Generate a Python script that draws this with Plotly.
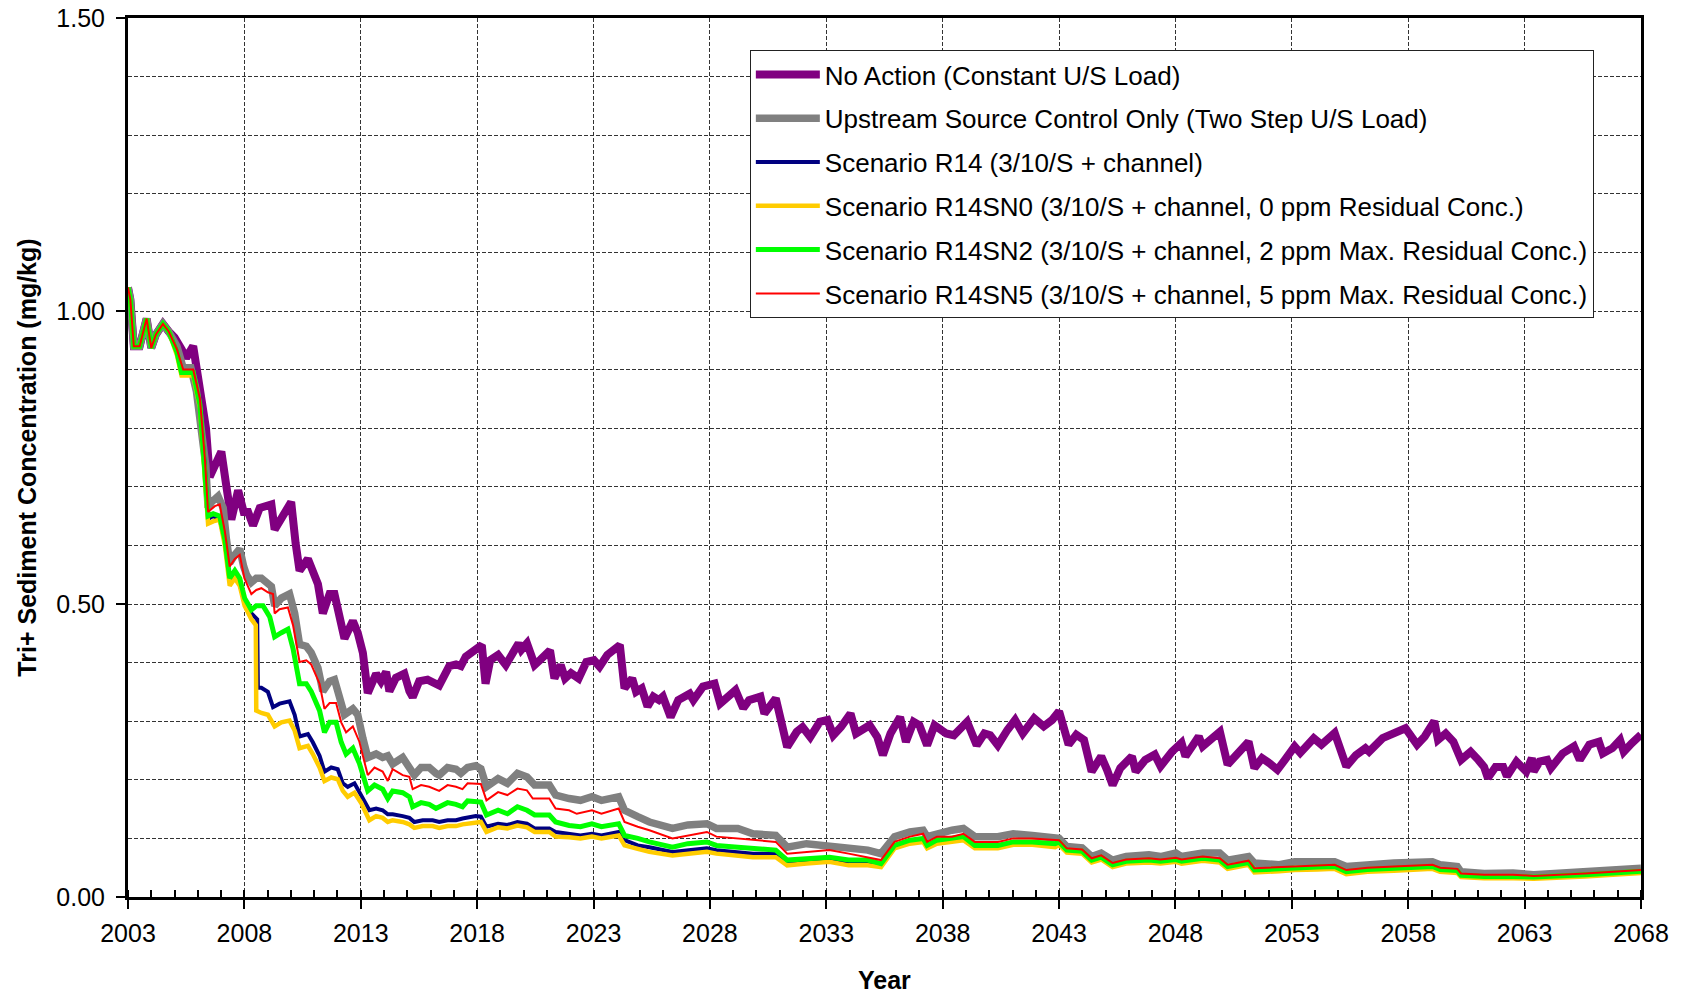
import plotly.graph_objects as go

# ---------------- data ----------------
# shared start of all scenarios (2003 - 2005)
early_years = [2003.0, 2003.1, 2003.25, 2003.5, 2003.8, 2004.0, 2004.2, 2004.5, 2004.75]
early_vals = [1.04, 1.02, 0.94, 0.94, 0.987, 0.937, 0.96, 0.978, 0.965]

# No Action (Constant U/S Load)
na_years = early_years + [
    2005.0, 2005.3, 2005.5, 2005.8, 2006.16, 2006.35, 2006.51, 2006.8, 2007.01, 2007.23,
    2007.44, 2007.73, 2007.97, 2008.16, 2008.37, 2008.66, 2008.87, 2009.16, 2009.3, 2009.66,
    2010.01, 2010.2, 2010.37, 2010.73, 2010.94, 2011.16, 2011.37, 2011.66, 2011.87, 2012.09,
    2012.3, 2012.66, 2012.87, 2013.09, 2013.3, 2013.66, 2013.87, 2014.09, 2014.23, 2014.51,
    2014.87, 2015.09, 2015.23, 2015.51, 2015.87, 2016.37, 2016.59, 2016.8, 2017.09, 2017.3,
    2017.51, 2017.87, 2018.2, 2018.36, 2018.56, 2018.9, 2019.23, 2019.78, 2019.9, 2020.14,
    2020.47, 2020.72, 2021.13, 2021.32, 2021.59, 2021.78, 2022.03, 2022.36, 2022.69, 2023.02,
    2023.26, 2023.59, 2024.13, 2024.33, 2024.66, 2024.83, 2025.07, 2025.32, 2025.57, 2025.81,
    2025.98, 2026.31, 2026.64, 2027.13, 2027.29, 2027.70, 2028.2, 2028.44, 2028.86, 2029.1,
    2029.43, 2029.68, 2030.17, 2030.34, 2030.83, 2031.16, 2031.32, 2031.73, 2031.98, 2032.31,
    2032.72, 2033.05, 2033.3, 2033.63, 2034.04, 2034.28, 2034.86, 2035.19, 2035.43, 2035.76,
    2036.17, 2036.42, 2036.75, 2037.0, 2037.33, 2037.65, 2038.15, 2038.48, 2039.05, 2039.46,
    2039.79, 2040.04, 2040.37, 2040.78, 2041.11, 2041.44, 2041.93, 2042.34, 2042.7, 2043.0,
    2043.25, 2043.41, 2043.74, 2044.07, 2044.4, 2044.81, 2045.06, 2045.3, 2045.63, 2046.13,
    2046.29, 2046.7, 2047.11, 2047.36, 2047.85, 2048.26, 2048.43, 2049.0, 2049.17, 2049.91,
    2050.24, 2050.65, 2051.14, 2051.39, 2051.72, 2052.05, 2052.38, 2052.7, 2053.12, 2053.36,
    2053.94, 2054.27, 2054.84, 2055.34, 2055.75, 2056.16, 2056.32, 2056.9, 2057.39, 2057.88,
    2058.38, 2058.71, 2059.12, 2059.28, 2059.61, 2059.94, 2060.27, 2060.68, 2061.01, 2061.26,
    2061.42, 2061.75, 2062.08, 2062.24, 2062.65, 2063.07, 2063.31, 2063.39, 2063.64, 2063.97,
    2064.13, 2064.63, 2065.12, 2065.37, 2065.78, 2066.19, 2066.36, 2066.77, 2067.1, 2067.26,
    2067.59, 2068.0]
na_vals = early_vals + [
    0.955, 0.935, 0.92, 0.94, 0.86, 0.80, 0.717, 0.744, 0.76, 0.70,
    0.644, 0.694, 0.657, 0.657, 0.634, 0.664, 0.667, 0.67, 0.627, 0.654,
    0.674, 0.604, 0.557, 0.577, 0.557, 0.534, 0.484, 0.517, 0.517, 0.484,
    0.441, 0.471, 0.451, 0.417, 0.348, 0.381, 0.368, 0.384, 0.351, 0.374,
    0.381, 0.351, 0.341, 0.368, 0.371, 0.361, 0.381, 0.394, 0.397, 0.394,
    0.410, 0.420, 0.43, 0.364, 0.404, 0.413, 0.396, 0.433, 0.422, 0.433,
    0.396, 0.405, 0.421, 0.373, 0.396, 0.373, 0.382, 0.373, 0.401, 0.404,
    0.393, 0.413, 0.43, 0.356, 0.373, 0.350, 0.356, 0.325, 0.342, 0.336,
    0.342, 0.307, 0.336, 0.347, 0.336, 0.359, 0.364, 0.330, 0.345, 0.353,
    0.322, 0.336, 0.342, 0.313, 0.339, 0.290, 0.256, 0.282, 0.290, 0.273,
    0.299, 0.302, 0.276, 0.290, 0.313, 0.279, 0.293, 0.273, 0.242, 0.279,
    0.307, 0.265, 0.299, 0.293, 0.259, 0.293, 0.279, 0.276, 0.299, 0.259,
    0.279, 0.276, 0.259, 0.285, 0.302, 0.279, 0.305, 0.291, 0.302, 0.317,
    0.274, 0.260, 0.277, 0.268, 0.214, 0.240, 0.217, 0.191, 0.220, 0.240,
    0.214, 0.234, 0.243, 0.223, 0.248, 0.263, 0.240, 0.274, 0.257, 0.282,
    0.226, 0.243, 0.265, 0.220, 0.237, 0.228, 0.217, 0.234, 0.257, 0.246,
    0.271, 0.260, 0.280, 0.223, 0.242, 0.254, 0.248, 0.271, 0.280, 0.288,
    0.260, 0.274, 0.300, 0.268, 0.279, 0.265, 0.234, 0.248, 0.234, 0.222,
    0.203, 0.222, 0.222, 0.206, 0.231, 0.214, 0.237, 0.214, 0.231, 0.234,
    0.220, 0.245, 0.257, 0.234, 0.260, 0.265, 0.245, 0.254, 0.268, 0.248,
    0.262, 0.277]

# Upstream Source Control Only (Two Step U/S Load)
usc_years = early_years + [
    2005.1, 2005.37, 2005.7, 2005.94, 2006.16, 2006.34, 2006.44, 2006.59, 2006.87, 2007.09,
    2007.23, 2007.37, 2007.59, 2007.8, 2007.97, 2008.09, 2008.3, 2008.51, 2008.73, 2008.94,
    2009.16, 2009.3, 2009.59, 2009.94, 2010.16, 2010.37, 2010.66, 2010.87, 2011.16, 2011.37,
    2011.66, 2011.87, 2012.09, 2012.3, 2012.66, 2012.87, 2013.09, 2013.3, 2013.66, 2013.94,
    2014.16, 2014.37, 2014.8, 2015.09, 2015.3, 2015.59, 2015.94, 2016.23, 2016.37, 2016.73,
    2017.09, 2017.3, 2017.59, 2017.94, 2018.16, 2018.4, 2018.9, 2019.3, 2019.73, 2020.14,
    2020.47, 2021.1, 2021.37, 2021.95, 2022.44, 2022.93, 2023.34, 2024.08, 2024.33, 2024.9,
    2025.4, 2026.39, 2027.05, 2027.87, 2028.28, 2029.2, 2029.85, 2030.83, 2031.32, 2032.15,
    2033.13, 2033.96, 2034.78, 2035.35, 2035.93, 2036.59, 2037.16, 2037.33, 2037.75, 2038.4,
    2038.89, 2039.38, 2040.37, 2041.03, 2041.85, 2042.83, 2043.0, 2043.33, 2043.99, 2044.4,
    2044.81, 2045.3, 2045.88, 2046.86, 2047.36, 2048.02, 2048.26, 2049.17, 2049.9, 2050.24,
    2051.14, 2051.39, 2052.46, 2053.12, 2054.1, 2054.84, 2055.34, 2056.25, 2057.39, 2059.04,
    2059.37, 2060.11, 2060.27, 2061.26, 2062.5, 2063.39, 2065.6, 2068.0]
usc_vals = early_vals + [
    0.94, 0.903, 0.903, 0.863, 0.79, 0.737, 0.664, 0.674, 0.684, 0.664,
    0.61, 0.57, 0.584, 0.594, 0.564, 0.55, 0.537, 0.544, 0.544, 0.537,
    0.53, 0.497, 0.510, 0.517, 0.484, 0.431, 0.428, 0.417, 0.391, 0.351,
    0.368, 0.371, 0.338, 0.311, 0.321, 0.311, 0.271, 0.238, 0.244, 0.238,
    0.241, 0.227, 0.238, 0.221, 0.208, 0.221, 0.221, 0.211, 0.208, 0.221,
    0.218, 0.211, 0.221, 0.224, 0.219, 0.188, 0.202, 0.194, 0.211, 0.205,
    0.191, 0.191, 0.174, 0.168, 0.165, 0.171, 0.165, 0.171, 0.148, 0.137,
    0.128, 0.117, 0.123, 0.125, 0.117, 0.117, 0.108, 0.105, 0.085, 0.091,
    0.088, 0.083, 0.080, 0.074, 0.103, 0.111, 0.114, 0.103, 0.108, 0.114,
    0.117, 0.103, 0.103, 0.108, 0.105, 0.100, 0.100, 0.086, 0.084, 0.069,
    0.075, 0.063, 0.069, 0.072, 0.069, 0.075, 0.069, 0.075, 0.075, 0.063,
    0.069, 0.058, 0.055, 0.060, 0.060, 0.060, 0.052, 0.055, 0.058, 0.060,
    0.055, 0.052, 0.043, 0.040, 0.041, 0.038, 0.043, 0.049]

# Scenario R14 (3/10/S + channel)
r14_years = early_years + [
    2005.1, 2005.3, 2005.8, 2006.09, 2006.3, 2006.44, 2006.66, 2006.94, 2007.16, 2007.37,
    2007.59, 2007.8, 2008.01, 2008.3, 2008.55, 2008.58, 2008.73, 2009.01, 2009.23, 2009.51,
    2009.94, 2010.16, 2010.37, 2010.73, 2010.94, 2011.23, 2011.44, 2011.73, 2012.01, 2012.23,
    2012.44, 2012.73, 2013.01, 2013.37, 2013.66, 2013.94, 2014.16, 2014.37, 2014.8, 2015.09,
    2015.3, 2015.66, 2016.09, 2016.37, 2016.73, 2017.09, 2017.37, 2017.94, 2018.16, 2018.4,
    2018.9, 2019.3, 2019.73, 2020.14, 2020.47, 2021.1, 2021.37, 2021.95, 2022.44, 2022.93,
    2023.34, 2024.08, 2024.33, 2024.9, 2025.4, 2026.39, 2027.05, 2027.87, 2028.28, 2029.2,
    2029.85, 2030.83, 2031.32, 2032.15, 2033.13, 2033.96, 2034.78, 2035.35, 2035.93, 2036.59,
    2037.16, 2037.33, 2037.75, 2038.89, 2039.38, 2040.37, 2041.03, 2041.85, 2042.83, 2043.0,
    2043.33, 2043.99, 2044.4, 2044.81, 2045.3, 2045.88, 2046.86, 2047.36, 2048.02, 2048.26,
    2049.17, 2049.9, 2050.24, 2051.14, 2051.39, 2052.46, 2053.12, 2054.1, 2054.84, 2055.34,
    2056.25, 2057.39, 2059.04, 2059.37, 2060.11, 2060.27, 2061.26, 2062.5, 2063.39, 2065.6,
    2068.0]
r14_vals = early_vals + [
    0.93, 0.893, 0.893, 0.838, 0.735, 0.645, 0.650, 0.645, 0.605, 0.54,
    0.55, 0.535, 0.50, 0.484, 0.474, 0.357, 0.357, 0.350, 0.324, 0.330,
    0.334, 0.311, 0.274, 0.278, 0.264, 0.241, 0.214, 0.221, 0.218, 0.194,
    0.188, 0.194, 0.174, 0.148, 0.151, 0.148, 0.141, 0.141, 0.138, 0.135,
    0.128, 0.131, 0.131, 0.128, 0.131, 0.131, 0.134, 0.138, 0.137, 0.120,
    0.125, 0.123, 0.128, 0.125, 0.117, 0.117, 0.111, 0.108, 0.105, 0.108,
    0.105, 0.111, 0.097, 0.088, 0.085, 0.077, 0.080, 0.083, 0.080, 0.077,
    0.074, 0.074, 0.060, 0.063, 0.065, 0.060, 0.060, 0.054, 0.085, 0.094,
    0.097, 0.085, 0.094, 0.100, 0.085, 0.085, 0.091, 0.091, 0.088, 0.091,
    0.078, 0.076, 0.061, 0.066, 0.053, 0.059, 0.061, 0.059, 0.062, 0.059,
    0.064, 0.061, 0.050, 0.057, 0.044, 0.046, 0.048, 0.049, 0.050, 0.041,
    0.045, 0.047, 0.050, 0.045, 0.043, 0.036, 0.034, 0.034, 0.033, 0.037,
    0.043]

# Scenario R14SN0 (3/10/S + channel, 0 ppm Residual Conc.)
sn0_years = early_years + [
    2005.1, 2005.3, 2005.8, 2006.09, 2006.3, 2006.44, 2006.66, 2006.94, 2007.16, 2007.37,
    2007.59, 2007.8, 2008.01, 2008.3, 2008.49, 2008.51, 2008.73, 2009.01, 2009.3, 2009.59,
    2009.94, 2010.16, 2010.37, 2010.73, 2010.94, 2011.23, 2011.44, 2011.73, 2012.01, 2012.23,
    2012.44, 2012.73, 2013.01, 2013.37, 2013.66, 2013.94, 2014.16, 2014.37, 2014.8, 2015.09,
    2015.3, 2015.66, 2016.09, 2016.37, 2016.73, 2017.09, 2017.37, 2017.94, 2018.16, 2018.4,
    2018.9, 2019.3, 2019.73, 2020.14, 2020.47, 2021.1, 2021.37, 2021.95, 2022.44, 2022.93,
    2023.34, 2024.08, 2024.33, 2024.9, 2025.4, 2026.39, 2027.05, 2027.87, 2028.28, 2029.2,
    2029.85, 2030.83, 2031.32, 2032.15, 2033.13, 2033.96, 2034.78, 2035.35, 2035.93, 2036.59,
    2037.16, 2037.33, 2037.75, 2038.89, 2039.38, 2040.37, 2041.03, 2041.85, 2042.83, 2043.0,
    2043.33, 2043.99, 2044.4, 2044.81, 2045.3, 2045.88, 2046.86, 2047.36, 2048.02, 2048.26,
    2049.17, 2049.9, 2050.24, 2051.14, 2051.39, 2052.46, 2053.12, 2054.1, 2054.84, 2055.34,
    2056.25, 2057.39, 2059.04, 2059.37, 2060.11, 2060.27, 2061.26, 2062.5, 2063.39, 2065.6,
    2068.0]
sn0_vals = early_vals + [
    0.925, 0.89, 0.89, 0.835, 0.73, 0.637, 0.641, 0.644, 0.60, 0.531,
    0.544, 0.531, 0.497, 0.474, 0.464, 0.318, 0.314, 0.311, 0.291, 0.298,
    0.301, 0.284, 0.254, 0.258, 0.244, 0.221, 0.198, 0.204, 0.201, 0.181,
    0.171, 0.178, 0.161, 0.131, 0.138, 0.135, 0.128, 0.131, 0.128, 0.124,
    0.118, 0.121, 0.121, 0.118, 0.121, 0.121, 0.124, 0.128, 0.128, 0.111,
    0.119, 0.117, 0.122, 0.119, 0.111, 0.111, 0.103, 0.102, 0.100, 0.103,
    0.100, 0.105, 0.088, 0.082, 0.077, 0.071, 0.074, 0.077, 0.074, 0.071,
    0.068, 0.068, 0.054, 0.057, 0.060, 0.054, 0.054, 0.051, 0.083, 0.091,
    0.094, 0.083, 0.091, 0.097, 0.083, 0.083, 0.089, 0.089, 0.085, 0.089,
    0.076, 0.074, 0.059, 0.064, 0.051, 0.057, 0.059, 0.057, 0.060, 0.057,
    0.062, 0.059, 0.048, 0.055, 0.042, 0.044, 0.046, 0.047, 0.048, 0.039,
    0.043, 0.045, 0.048, 0.043, 0.041, 0.034, 0.032, 0.032, 0.031, 0.035,
    0.041]

# Scenario R14SN2 (3/10/S + channel, 2 ppm Max. Residual Conc.)
sn2_years = early_years + [
    2005.1, 2005.3, 2005.8, 2006.09, 2006.3, 2006.44, 2006.66, 2006.94, 2007.16, 2007.37,
    2007.59, 2007.8, 2008.01, 2008.3, 2008.51, 2008.8, 2009.09, 2009.3, 2009.59, 2009.87,
    2010.09, 2010.37, 2010.66, 2010.87, 2011.23, 2011.44, 2011.66, 2011.94, 2012.16, 2012.37,
    2012.66, 2012.94, 2013.3, 2013.59, 2013.94, 2014.16, 2014.37, 2014.8, 2015.09, 2015.23,
    2015.59, 2015.94, 2016.23, 2016.73, 2017.09, 2017.37, 2017.59, 2017.94, 2018.16, 2018.4,
    2018.9, 2019.3, 2019.73, 2020.14, 2020.47, 2021.1, 2021.37, 2021.95, 2022.44, 2022.93,
    2023.34, 2024.08, 2024.33, 2024.9, 2025.4, 2026.39, 2027.05, 2027.87, 2028.28, 2029.2,
    2029.85, 2030.83, 2031.32, 2032.15, 2033.13, 2033.96, 2034.78, 2035.35, 2035.93, 2036.59,
    2037.16, 2037.33, 2037.75, 2038.89, 2039.38, 2040.37, 2041.03, 2041.85, 2042.83, 2043.0,
    2043.33, 2043.99, 2044.4, 2044.81, 2045.3, 2045.88, 2046.86, 2047.36, 2048.02, 2048.26,
    2049.17, 2049.9, 2050.24, 2051.14, 2051.39, 2052.46, 2053.12, 2054.1, 2054.84, 2055.34,
    2056.25, 2057.39, 2059.04, 2059.37, 2060.11, 2060.27, 2061.26, 2062.5, 2063.39, 2065.6,
    2068.0]
sn2_vals = early_vals + [
    0.93, 0.895, 0.895, 0.84, 0.74, 0.65, 0.654, 0.650, 0.61, 0.544,
    0.557, 0.544, 0.51, 0.49, 0.497, 0.497, 0.478, 0.444, 0.451, 0.457,
    0.424, 0.364, 0.364, 0.351, 0.318, 0.281, 0.298, 0.298, 0.264, 0.244,
    0.254, 0.228, 0.181, 0.191, 0.184, 0.168, 0.181, 0.178, 0.171, 0.154,
    0.161, 0.158, 0.151, 0.161, 0.158, 0.154, 0.164, 0.164, 0.162, 0.140,
    0.148, 0.142, 0.154, 0.148, 0.140, 0.140, 0.128, 0.122, 0.120, 0.125,
    0.120, 0.125, 0.105, 0.100, 0.094, 0.085, 0.091, 0.094, 0.088, 0.085,
    0.083, 0.080, 0.063, 0.066, 0.068, 0.063, 0.063, 0.057, 0.088, 0.097,
    0.100, 0.088, 0.097, 0.103, 0.088, 0.088, 0.094, 0.094, 0.091, 0.094,
    0.080, 0.078, 0.063, 0.068, 0.055, 0.061, 0.063, 0.061, 0.064, 0.061,
    0.066, 0.063, 0.052, 0.059, 0.046, 0.048, 0.050, 0.051, 0.052, 0.043,
    0.047, 0.049, 0.052, 0.047, 0.045, 0.037, 0.035, 0.035, 0.034, 0.038,
    0.044]

# Scenario R14SN5 (3/10/S + channel, 5 ppm Max. Residual Conc.)
sn5_years = early_years + [
    2005.1, 2005.37, 2005.8, 2006.09, 2006.3, 2006.44, 2006.73, 2006.94, 2007.16, 2007.37,
    2007.59, 2007.8, 2008.0, 2008.3, 2008.51, 2008.73, 2009.01, 2009.23, 2009.3, 2009.51,
    2009.87, 2010.09, 2010.37, 2010.66, 2010.87, 2011.23, 2011.44, 2011.66, 2011.94, 2012.16,
    2012.37, 2012.66, 2012.94, 2013.3, 2013.59, 2013.94, 2014.16, 2014.37, 2014.8, 2015.09,
    2015.23, 2015.59, 2015.94, 2016.37, 2016.73, 2017.09, 2017.37, 2017.59, 2017.94, 2018.16,
    2018.4, 2018.9, 2019.3, 2019.73, 2020.14, 2020.39, 2021.1, 2021.37, 2021.95, 2022.28,
    2022.93, 2023.34, 2024.08, 2024.33, 2024.9, 2025.4, 2026.39, 2027.05, 2027.87, 2028.28,
    2029.2, 2029.85, 2030.83, 2031.32, 2032.15, 2033.13, 2033.96, 2034.78, 2035.35, 2035.93,
    2036.59, 2037.16, 2037.33, 2037.75, 2038.4, 2038.89, 2039.38, 2040.37, 2041.03, 2041.85,
    2042.83, 2043.0, 2043.33, 2043.99, 2044.4, 2044.81, 2045.3, 2045.88, 2046.86, 2047.36,
    2048.02, 2048.26, 2049.17, 2049.9, 2050.24, 2051.14, 2051.39, 2052.46, 2053.12, 2054.1,
    2054.84, 2055.34, 2056.25, 2057.39, 2059.04, 2059.37, 2060.11, 2060.27, 2061.26, 2062.5,
    2063.39, 2065.6, 2068.0]
sn5_vals = early_vals + [
    0.935, 0.90, 0.90, 0.85, 0.75, 0.657, 0.667, 0.670, 0.624, 0.564,
    0.577, 0.584, 0.544, 0.517, 0.524, 0.527, 0.520, 0.517, 0.484, 0.491,
    0.494, 0.464, 0.401, 0.404, 0.397, 0.364, 0.321, 0.331, 0.331, 0.298,
    0.281, 0.291, 0.265, 0.208, 0.221, 0.214, 0.198, 0.218, 0.208, 0.205,
    0.184, 0.191, 0.188, 0.181, 0.191, 0.188, 0.184, 0.194, 0.194, 0.193,
    0.165, 0.179, 0.174, 0.185, 0.182, 0.168, 0.168, 0.151, 0.148, 0.142,
    0.148, 0.142, 0.151, 0.128, 0.120, 0.114, 0.100, 0.105, 0.111, 0.103,
    0.100, 0.097, 0.094, 0.074, 0.077, 0.080, 0.074, 0.068, 0.063, 0.094,
    0.103, 0.108, 0.094, 0.103, 0.103, 0.108, 0.094, 0.094, 0.100, 0.100,
    0.097, 0.097, 0.083, 0.081, 0.066, 0.071, 0.058, 0.064, 0.066, 0.064,
    0.067, 0.064, 0.069, 0.066, 0.055, 0.062, 0.049, 0.051, 0.053, 0.054,
    0.055, 0.046, 0.050, 0.052, 0.055, 0.050, 0.048, 0.040, 0.038, 0.038,
    0.036, 0.040, 0.046]

series_names = [
    "No Action (Constant U/S Load)",
    "Upstream Source Control Only (Two Step U/S Load)",
    "Scenario R14 (3/10/S + channel)",
    "Scenario R14SN0 (3/10/S + channel, 0 ppm Residual Conc.)",
    "Scenario R14SN2 (3/10/S + channel, 2 ppm Max. Residual Conc.)",
    "Scenario R14SN5 (3/10/S + channel, 5 ppm Max. Residual Conc.)",
]
series_x = [na_years, usc_years, r14_years, sn0_years, sn2_years, sn5_years]
series_y = [na_vals, usc_vals, r14_vals, sn0_vals, sn2_vals, sn5_vals]
series_colors = ["#800080", "#808080", "#000080", "#FFCC00", "#00FF00", "#FF0000"]
series_widths = [8, 7.5, 4, 4.5, 5, 2]

# ---------------- figure ----------------
fig = go.Figure()
for i, (nm, xs, ys) in enumerate(zip(series_names, series_x, series_y)):
    fig.add_trace(go.Scatter(
        x=xs, y=ys, mode="lines", name=nm, legendgroup=f"g{i}",
        line=dict(color=series_colors[i], width=series_widths[i]),
    ))

FONT = "Liberation Sans, Arial, sans-serif"
grid = dict(gridcolor="#333333", gridwidth=1, griddash="4px,2px")

fig.update_layout(
    width=1684, height=995,
    margin=dict(l=128, r=43, t=18, b=98, autoexpand=False),
    plot_bgcolor="white", paper_bgcolor="white",
    font=dict(family=FONT, color="black", size=24),
    showlegend=True,
    legend=dict(
        x=0.411, y=0.9636, xanchor="left", yanchor="top",
        bgcolor="white", bordercolor="#222222", borderwidth=1,
        font=dict(family=FONT, size=26, color="black"),
        tracegroupgap=7, itemwidth=64,
    ),
    xaxis=dict(
        range=[2003, 2068], tick0=2003, dtick=5, tickformat="d",
        automargin=False, ticklabeloverflow="allow",
        showgrid=True, **grid,
        showline=True, linecolor="black", linewidth=3, mirror=True,
        ticks="outside", ticklen=9, tickwidth=2, tickcolor="black",
        ticklabelstandoff=3,
        tickfont=dict(family=FONT, size=25),
        minor=dict(dtick=1, tick0=2003, ticks="inside", ticklen=7, tickwidth=1.5,
                   tickcolor="black", showgrid=False),
        zeroline=False,
    ),
    yaxis=dict(
        range=[0, 1.5], tick0=0, dtick=0.5, tickformat=".2f",
        automargin=False, ticklabeloverflow="allow",
        showgrid=True, **grid,
        showline=True, linecolor="black", linewidth=3, mirror=True,
        ticks="outside", ticklen=9, tickwidth=2, tickcolor="black",
        ticklabelstandoff=6,
        tickfont=dict(family=FONT, size=25),
        minor=dict(dtick=0.1, tick0=0, ticks="", showgrid=True, **grid),
        title=dict(text="<b>Tri+ Sediment Concentration (mg/kg)</b>",
                   font=dict(family=FONT, size=25), standoff=13),
        zeroline=False,
    ),
    annotations=[dict(
        text="<b>Year</b>", xref="paper", yref="paper", x=0.5, y=0,
        xanchor="center", yanchor="middle", yshift=-83, showarrow=False,
        font=dict(family=FONT, size=25, color="black"),
    )],
)

# remove the browser's default 8 px page margin so the figure fills the window
fig.write_html("out.html", config={"displayModeBar": False},
               post_script="document.body.style.margin='0px';")
